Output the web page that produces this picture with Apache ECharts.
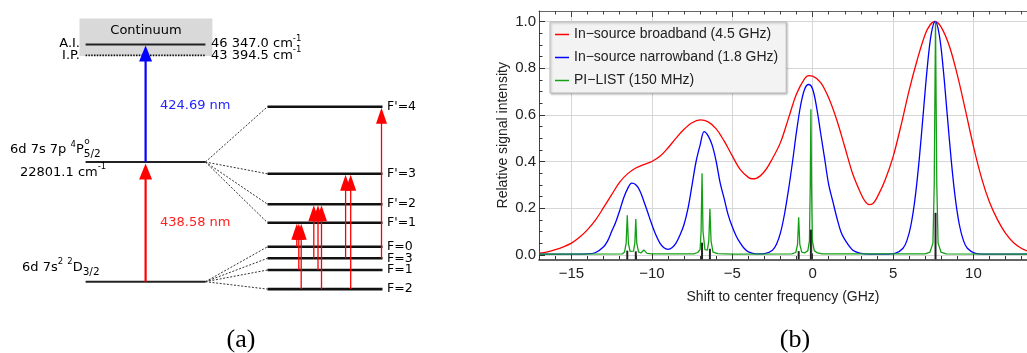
<!DOCTYPE html>
<html><head><meta charset="utf-8">
<script src="https://cdn.jsdelivr.net/npm/echarts@6/dist/echarts.min.js"></script>
<style>html,body{margin:0;padding:0;background:#fff}#c{width:1027px;height:353px}</style>
</head><body><div id="c"></div>
<script>
// ================= Panel (b): spectrum data =================
const seriesNames = ['In\u2212source broadband (4.5 GHz)', 'In\u2212source narrowband (1.8 GHz)', 'PI\u2212LIST (150 MHz)'];

const broadX = [-17,-16.5,-16,-15.5,-15,-14.5,-14,-13.5,-13,-12.5,-12,-11.5,-11,-10.5,-10,-9.5,-9,-8.5,-8,-7.5,-7,-6.5,-6,-5.5,-5,-4.5,-4,-3.75,-3.5,-3,-2.5,-2,-1.5,-1,-0.5,-0.25,0,0.5,1,1.5,2,2.5,3,3.25,3.5,3.75,4,4.5,5,5.5,6,6.5,7,7.3,7.6,8,8.5,9,9.5,10,10.5,11,11.5,12,12.5,13,13.5];
const broadY = [0.007,0.013,0.022,0.034,0.05,0.075,0.108,0.15,0.203,0.258,0.312,0.348,0.372,0.387,0.4,0.422,0.458,0.5,0.538,0.566,0.578,0.57,0.54,0.487,0.424,0.365,0.332,0.326,0.328,0.357,0.413,0.482,0.586,0.69,0.755,0.768,0.766,0.738,0.672,0.578,0.462,0.345,0.262,0.23,0.215,0.22,0.245,0.32,0.42,0.556,0.705,0.835,0.945,0.985,1.0,0.975,0.895,0.77,0.62,0.465,0.33,0.225,0.15,0.092,0.052,0.027,0.013];

const narrowX = [-17,-15,-14,-13.5,-13,-12.75,-12.5,-12.25,-12,-11.75,-11.5,-11.25,-11,-10.75,-10.5,-10.25,-10,-9.75,-9.5,-9.25,-9,-8.75,-8.5,-8.25,-8,-7.75,-7.5,-7.25,-7,-6.75,-6.5,-6.25,-6,-5.75,-5.5,-5.25,-5,-4.75,-4.5,-4.25,-4,-3.5,-3,-2.5,-2.25,-2,-1.75,-1.5,-1.25,-1,-0.75,-0.5,-0.25,0,0.25,0.5,0.75,1,1.25,1.5,1.75,2,2.5,3,3.5,4.5,5.12,5.62,5.87,6.12,6.37,6.62,6.87,7.12,7.37,7.62,7.87,8.12,8.37,8.62,8.87,9.12,9.37,9.62,10.12,10.6,13.5];
const narrowY = [0.003,0.003,0.004,0.01,0.035,0.06,0.1,0.14,0.19,0.245,0.285,0.307,0.3,0.275,0.23,0.18,0.13,0.085,0.05,0.03,0.023,0.03,0.05,0.085,0.13,0.2,0.3,0.4,0.47,0.528,0.51,0.47,0.4,0.307,0.24,0.17,0.12,0.08,0.05,0.027,0.013,0.004,0.005,0.02,0.045,0.095,0.175,0.28,0.4,0.53,0.64,0.71,0.73,0.71,0.63,0.52,0.41,0.3,0.23,0.16,0.1,0.065,0.02,0.006,0.003,0.003,0.006,0.028,0.063,0.13,0.243,0.404,0.6,0.797,0.945,1.0,0.945,0.797,0.6,0.404,0.243,0.13,0.063,0.028,0.006,0.003,0.003];

const listX = [-17,-11.85,-11.7,-11.6,-11.53,-11.46,-11.36,-11.25,-11.14,-11.06,-11,-10.94,-10.83,-10.68,-10.56,-10.5,-10.44,-10.3,-10,-7.4,-7.15,-7,-6.94,-6.88,-6.82,-6.7,-6.55,-6.46,-6.39,-6.32,-6.2,-5.9,-5,-1.3,-1.05,-0.94,-0.87,-0.8,-0.68,-0.5,-0.3,-0.2,-0.15,-0.11,-0.07,-0.02,0.1,0.3,0.6,7,7.3,7.48,7.56,7.64,7.72,7.8,7.98,8.3,13.5];
const listY = [0.003,0.004,0.012,0.05,0.17,0.05,0.015,0.011,0.016,0.05,0.153,0.05,0.013,0.008,0.015,0.021,0.015,0.006,0.004,0.004,0.01,0.022,0.1,0.35,0.1,0.022,0.02,0.06,0.197,0.06,0.012,0.005,0.003,0.004,0.01,0.045,0.161,0.045,0.012,0.008,0.018,0.06,0.3,0.624,0.3,0.06,0.018,0.008,0.004,0.004,0.012,0.05,0.3,1.0,0.3,0.05,0.012,0.004,0.003];

// transition positions (GHz) and relative line strengths (black sticks)
const stickX = [-11.53,-11.0,-6.88,-6.39,-0.87,-0.11,7.64];
const stickY = [0.018,0.015,0.052,0.026,0.016,0.108,0.18];

const xMajor = [-15,-10,-5,0,5,10];
const xMajorLabels = ['\u221215','\u221210','\u22125','0','5','10'];
const xMinor = [-17,-16,-14,-13,-12,-11,-9,-8,-7,-6,-4,-3,-2,-1,1,2,3,4,6,7,8,9,11,12,13];
const yMajor = [0,0.2,0.4,0.6,0.8,1.0];
const yMajorLabels = ['0.0','0.2','0.4','0.6','0.8','1.0'];
const yMinor = [0.05,0.1,0.15,0.25,0.3,0.35,0.45,0.5,0.55,0.65,0.7,0.75,0.85,0.9,0.95];

// ================= Panel (a): level scheme (diagram units) =================
const continuumBox = [[79.5, 18.5, 212.4, 56]];
// [x0, x1, y, kind] kind: 0 main solid, 1 dotted (I.P.), 2 hyperfine
const mainLevels = [[85.6,205.4,44.6,0],[85.6,205.4,55.4,1],[85.6,205.4,162,0],[85.6,205.4,281.7,0]];
const upperHF = [["F'=4",106.7],["F'=3",173.8],["F'=2",204.2],["F'=1",222.7]];
const lowerHF = [["F=0",246.8],["F=3",258.3],["F=1",270.0],["F=2",289.1]];
const hfX = [267.5, 382.5];
const upperOrigin = [205.4, 162];
const lowerOrigin = [205.4, 281.7];
// main excitation arrows [x, fromY, toY]
const mainArrows = [[145.6, 281.7, 163.5, '#ff0000'],[145.6, 162, 45.5, '#0000ff']];
// hyperfine transitions [x, from level, to level]
const hfArrows = [
  [296.8,"F=0","F'=1"],[298.8,"F=1","F'=1"],[301.2,"F=2","F'=1"],
  [313.8,"F=3","F'=2"],[318.0,"F=1","F'=2"],[321.5,"F=2","F'=2"],
  [345.6,"F=3","F'=3"],[350.7,"F=2","F'=3"],
  [381.5,"F=3","F'=4"]
];

const FA = '"DejaVu Sans", sans-serif';
const FB = '"Liberation Sans", Arial, sans-serif';

const mctx = document.createElement('canvas').getContext('2d');
function tw(t, size){ mctx.font = size + 'px "DejaVu Sans"'; return mctx.measureText(t).width; }
const pEnd = 10 + tw('6d 7s 7p ', 13) + tw('4', 8.5) + tw('P', 13);

// texts: [x, y, text, align, color, size]
const aTexts = [
  [146, 31, 'Continuum', 'center', '#000', 13],
  [80, 43.8, 'A.I.', 'right', '#000', 13],
  [80, 55.6, 'I.P.', 'right', '#000', 13],
  [211, 43.8, '46 347.0 cm{sup|-1}', 'left', '#000', 13],
  [211, 55.6, '43 394.5 cm{sup|-1}', 'left', '#000', 13],
  [160, 105.7, '424.69 nm', 'left', '#2424ff', 13],
  [10, 150, '6d 7s 7p {sup|4}P{sub|5/2}', 'left', '#000', 13],
  [pEnd + 0.5, 141.5, 'o', 'left', '#000', 9],
  [20, 172.5, '22801.1 cm{sup|-1}', 'left', '#000', 13],
  [160, 222.7, '438.58 nm', 'left', '#ff2020', 13],
  [22, 267.3, '6d 7s{sup|2} {sup|2}D{sub|3/2}', 'left', '#000', 13]
];
upperHF.concat(lowerHF).forEach(l => aTexts.push([387, l[1], l[0], 'left', '#000', 12.5]));

const levelY = {};
upperHF.concat(lowerHF).forEach(l => levelY[l[0]] = l[1]);
const hfLevelData = upperHF.concat(lowerHF).map(l => [hfX[0], hfX[1], l[1], 2]);
const connectorData = upperHF.map(l => [upperOrigin[0], upperOrigin[1], hfX[0], l[1]])
  .concat(lowerHF.map(l => [lowerOrigin[0], lowerOrigin[1], hfX[0], l[1]]));
const arrowData = mainArrows.map(a => ({x:a[0], from:a[1], to:a[2], color:a[3], w:2.2, hw:13, hl:16}))
  .concat(hfArrows.map(a => ({x:a[0], from:levelY[a[1]], to:levelY[a[2]] + 1, color:'#ff0000', w:1.3, hw:11, hl:16})));

const chart = echarts.init(document.getElementById('c'), null, {renderer:'canvas'});

const richStyles = {
  sup: {fontSize: 8.5, lineHeight: 9, verticalAlign: 'top', fontFamily: FA},
  sub: {fontSize: 10.5, lineHeight: 11, verticalAlign: 'bottom', fontFamily: FA}
};

const baseA = {xAxisIndex: 4, yAxisIndex: 2, silent: true, animation: false, encode: {x: 0, y: 1}};

const option = {
  animation: false,
  backgroundColor: '#fff',
  grid: [
    {left: 0, top: 0, width: 420, height: 353, show: false},
    {left: 539, top: 11, width: 488, height: 248.5, show: false}
  ],
  xAxis: [
    {gridIndex: 1, type: 'value', min: -17.02, max: 13.33, position: 'bottom',
     name: 'Shift to center frequency (GHz)', nameLocation: 'middle', nameGap: 31,
     nameTextStyle: {fontSize: 14, color: '#222', fontFamily: FB},
     axisLine: {show: true, onZero: false, lineStyle: {color: '#333', width: 1.6}},
     axisTick: {show: true, inside: true, length: 6, customValues: xMajor, lineStyle: {color: '#333', width: 1}},
     axisLabel: {show: true, customValues: xMajor, margin: 7, fontSize: 15, color: '#222', fontFamily: FB,
                 formatter: v => xMajorLabels[xMajor.indexOf(Math.round(v))]},
     splitLine: {show: true, lineStyle: {color: '#d6d6d6', width: 1}}},
    {gridIndex: 1, type: 'value', min: -17.02, max: 13.33, position: 'bottom',
     axisLine: {show: false, onZero: false}, axisLabel: {show: false}, splitLine: {show: false},
     axisTick: {show: true, inside: true, length: 3.5, customValues: xMinor, lineStyle: {color: '#333', width: 1}}},
    {gridIndex: 1, type: 'value', min: -17.02, max: 13.33, position: 'top',
     axisLine: {show: true, onZero: false, lineStyle: {color: '#666', width: 1}}, axisLabel: {show: false}, splitLine: {show: false},
     axisTick: {show: true, inside: true, length: 6, customValues: xMajor, lineStyle: {color: '#444', width: 1}}},
    {gridIndex: 1, type: 'value', min: -17.02, max: 13.33, position: 'top',
     axisLine: {show: false, onZero: false}, axisLabel: {show: false}, splitLine: {show: false},
     axisTick: {show: true, inside: true, length: 3.5, customValues: xMinor, lineStyle: {color: '#444', width: 1}}},
    {gridIndex: 0, type: 'value', min: 0, max: 420, show: false}
  ],
  yAxis: [
    {gridIndex: 1, type: 'value', min: -0.02, max: 1.045, position: 'left',
     name: 'Relative signal intensity', nameLocation: 'middle', nameGap: 29,
     nameTextStyle: {fontSize: 14, color: '#222', fontFamily: FB},
     axisLine: {show: true, onZero: false, lineStyle: {color: '#444', width: 1}},
     axisTick: {show: true, inside: true, length: 6, customValues: yMajor, lineStyle: {color: '#333', width: 1}},
     axisLabel: {show: true, customValues: yMajor, margin: 3, fontSize: 15, color: '#222', fontFamily: FB,
                 formatter: v => yMajorLabels[Math.round(v * 5)]},
     splitLine: {show: true, lineStyle: {color: '#d6d6d6', width: 1}}},
    {gridIndex: 1, type: 'value', min: -0.02, max: 1.045, position: 'left',
     axisLine: {show: false, onZero: false}, axisLabel: {show: false}, splitLine: {show: false},
     axisTick: {show: true, inside: true, length: 3.5, customValues: yMinor, lineStyle: {color: '#333', width: 1}}},
    {gridIndex: 0, type: 'value', min: 0, max: 353, inverse: true, show: false}
  ],
  legend: {
    show: true, left: 550, top: 22, orient: 'vertical', data: seriesNames,
    icon: 'rect', itemWidth: 14, itemHeight: 1.5, itemGap: 6,
    padding: [4, 8, 4, 5], backgroundColor: '#f3f3f3', borderColor: '#bcbcbc', borderWidth: 1,
    shadowColor: 'rgba(0,0,0,0.25)', shadowBlur: 2, shadowOffsetX: 1, shadowOffsetY: 1,
    selectedMode: false,
    textStyle: {fontSize: 14, color: '#222', fontFamily: FB, lineHeight: 17}
  },
  graphic: [
    {type: 'text', x: 241, y: 340, style: {text: '(a)', fontSize: 26, fontFamily: '"Liberation Serif", serif', fill: '#000', align: 'center', verticalAlign: 'middle'}},
    {type: 'text', x: 795, y: 340, style: {text: '(b)', fontSize: 26, fontFamily: '"Liberation Serif", serif', fill: '#000', align: 'center', verticalAlign: 'middle'}}
  ],
  series: [
    {name: seriesNames[0], type: 'line', xAxisIndex: 0, yAxisIndex: 0, color: '#ff0000',
     data: broadX.map((x, i) => [x, broadY[i]]), showSymbol: false, smooth: 0.35,
     lineStyle: {color: '#ff0000', width: 1.3}, z: 3},
    {name: seriesNames[1], type: 'line', xAxisIndex: 0, yAxisIndex: 0, color: '#0000ff',
     data: narrowX.map((x, i) => [x, narrowY[i]]), showSymbol: false, smooth: 0.35,
     lineStyle: {color: '#0000ff', width: 1.3}, z: 4},
    {name: seriesNames[2], type: 'line', xAxisIndex: 0, yAxisIndex: 0, color: '#14a014',
     data: listX.map((x, i) => [x, listY[i]]), showSymbol: false, smooth: false,
     lineStyle: {color: '#14a014', width: 1.3}, z: 5},
    {name: 'sticks', type: 'custom', xAxisIndex: 0, yAxisIndex: 0, z: 6, silent: true,
     data: stickX.map((x, i) => [x, stickY[i]]), encode: {x: 0, y: 1},
     renderItem: (params, api) => {
       const b = api.coord([api.value(0), -0.02]);
       const t = api.coord([api.value(0), api.value(1)]);
       return {type: 'line', shape: {x1: b[0], y1: b[1], x2: t[0], y2: t[1]}, style: {stroke: '#222', lineWidth: 2}};
     }},
    // ---- panel (a) ----
    Object.assign({type: 'custom', z: 1, data: continuumBox,
      renderItem: (params, api) => {
        const p0 = api.coord([api.value(0), api.value(1)]);
        const p1 = api.coord([api.value(2), api.value(3)]);
        return {type: 'rect', shape: {x: p0[0], y: p0[1], width: p1[0] - p0[0], height: p1[1] - p0[1]}, style: {fill: '#d9d9d9'}};
      }}, baseA),
    Object.assign({type: 'custom', z: 2, data: connectorData,
      renderItem: (params, api) => {
        const p0 = api.coord([api.value(0), api.value(1)]);
        const p1 = api.coord([api.value(2), api.value(3)]);
        return {type: 'line', shape: {x1: p0[0], y1: p0[1], x2: p1[0], y2: p1[1]}, style: {stroke: '#333', lineWidth: 1, lineDash: [2, 1.6]}};
      }}, baseA),
    Object.assign({type: 'custom', z: 3, data: mainLevels.concat(hfLevelData), encode: {x: [0, 1], y: 2},
      renderItem: (params, api) => {
        const kind = api.value(3);
        const p0 = api.coord([api.value(0), api.value(2)]);
        const p1 = api.coord([api.value(1), api.value(2)]);
        const st = kind === 1 ? {stroke: '#111', lineWidth: 1.6, lineDash: [1.5, 1.3]}
                 : kind === 2 ? {stroke: '#111', lineWidth: 2.6} : {stroke: '#222', lineWidth: 2};
        return {type: 'line', shape: {x1: p0[0], y1: p0[1], x2: p1[0], y2: p1[1]}, style: st};
      }}, baseA),
    Object.assign({type: 'custom', z: 4, data: arrowData.map(a => [a.x, a.from, a.to]),
      renderItem: (params, api) => {
        const d = arrowData[params.dataIndex];
        const pf = api.coord([api.value(0), api.value(1)]);
        const pt = api.coord([api.value(0), api.value(2)]);
        return {type: 'group', children: [
          {type: 'line', shape: {x1: pf[0], y1: pf[1], x2: pt[0], y2: pt[1] + d.hl * 0.8}, style: {stroke: d.color, lineWidth: d.w}},
          {type: 'polygon', shape: {points: [[pt[0], pt[1]], [pt[0] - d.hw / 2, pt[1] + d.hl], [pt[0] + d.hw / 2, pt[1] + d.hl]]}, style: {fill: d.color}}
        ]};
      }}, baseA),
    Object.assign({type: 'custom', z: 5, data: aTexts.map(t => [t[0], t[1]]),
      renderItem: (params, api) => {
        const t = aTexts[params.dataIndex];
        const p = api.coord([api.value(0), api.value(1)]);
        return {type: 'text', x: p[0], y: p[1], style: {
          text: t[2], fill: t[4], fontSize: t[5], fontFamily: FA, lineHeight: 20,
          align: t[3], verticalAlign: 'middle', rich: richStyles}};
      }}, baseA)
  ]
};
chart.setOption(option);
</script>
</body></html>
